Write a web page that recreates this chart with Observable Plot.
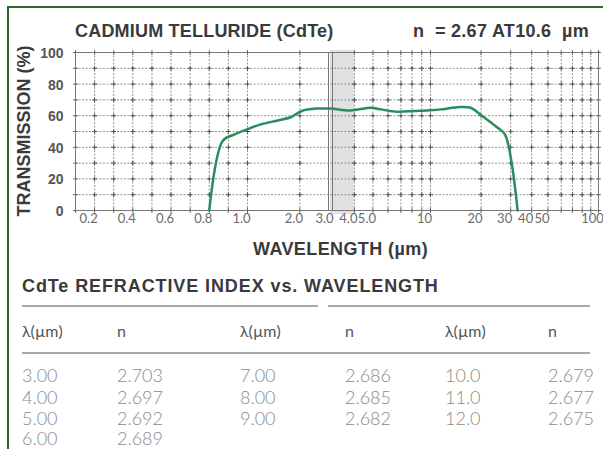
<!DOCTYPE html>
<html><head><meta charset="utf-8">
<script src="https://cdn.jsdelivr.net/npm/d3@7"></script>
<script src="https://cdn.jsdelivr.net/npm/@observablehq/plot@0.6"></script>
<style>
html,body{margin:0;padding:0;background:#fff;}
#page{position:relative;width:603px;height:449px;overflow:hidden;font-family:"Liberation Sans",Arial,sans-serif;background:#fff;}
#page svg{position:absolute;left:0;top:0;}
.t{position:absolute;white-space:pre;}
.bold{font-weight:bold;color:#3a3a3a;}
.frameline{position:absolute;background:#2c6a2c;}
.hline{position:absolute;height:2px;background:#a8a8a8;}
.cell{position:absolute;white-space:pre;font-family:Lato,"Open Sans",sans-serif;font-weight:300;font-size:18px;line-height:18px;color:#8a8a8a;}
.head{position:absolute;white-space:pre;font-family:Lato,"Open Sans",sans-serif;font-weight:400;font-size:16px;line-height:16px;color:#555;}
</style></head><body><div id="page"></div>
<script>
// ---- data ----
const wavelength =   [0.80, 0.87, 0.93, 1.00, 1.19, 1.50, 1.77, 2.05, 2.50, 3.00, 3.80, 4.90, 5.50, 6.70, 8.20, 10.0, 11.5, 15.0, 17.3, 20.5, 25.0, 27.8, 33.0];
const transmission = [0,    44,   48,   51.5, 54.5, 57,   59,   63,   64.5, 64.5, 63.3, 65,   64,   62.5, 63,   63.5, 64,   65.5, 65,   59.5, 52.5, 48,   0];
const xGridLeft = [0.1, 0.2, 0.3, 0.4, 0.5, 0.6, 0.7, 0.8, 0.9, 1.0, 2.0];
const xGridRight = [4, 5, 6, 7, 8, 9, 10, 20, 30, 40, 50, 60, 70, 80, 90, 100];
const panelJoin = [3];
const band = [[3, 4]];
const yGrid = [0, 10, 20, 30, 40, 50, 60, 70, 80, 90, 100];
const xTickValues = [0.2, 0.4, 0.6, 0.8, 1.0, 2.0, 3.0, 4.0, 5.0, 10, 20, 30, 40, 50, 100];
const xTickLabels = ["0.2", "0.4", "0.6", "0.8", "1.0", "2.0", "3.0", "4.0", "5.0", "10", "20", "30", "40", "50", "100"];
const yTickValues = [0, 20, 40, 60, 80, 100];

const title = "CADMIUM TELLURIDE (CdTe)";
const indexNote = "n  = 2.67 AT10.6  µm";
const xTitle = "WAVELENGTH (µm)";
const yTitle = "TRANSMISSION (%)";
const tableTitle = "CdTe REFRACTIVE INDEX vs. WAVELENGTH";
const tableHeader = ["λ(µm)", "n", "λ(µm)", "n", "λ(µm)", "n"];
const lambdaCol1 = ["3.00", "4.00", "5.00", "6.00"];
const nCol1 = ["2.703", "2.697", "2.692", "2.689"];
const lambdaCol2 = ["7.00", "8.00", "9.00"];
const nCol2 = ["2.686", "2.685", "2.682"];
const lambdaCol3 = ["10.0", "11.0", "12.0"];
const nCol3 = ["2.679", "2.677", "2.675"];

// ---- axis mapping: linear below 1 µm, logarithmic above ----
const u = w => w <= 1 ? w : 1 + Math.log10(w);

const page = document.getElementById("page");
const pts = wavelength.map((w, i) => ({w, t: transmission[i]}));
const xGrid = xGridLeft.concat(xGridRight);
const crosses = xGrid.flatMap(x => yGrid.map(y => ({x, y})));

const chart = Plot.plot({
  width: 603, height: 260,
  marginTop: 52, marginBottom: 50, marginLeft: 75, marginRight: 5,
  style: {background: "transparent", overflow: "visible"},
  x: {type: "linear", transform: u, domain: [0.1, 1, 3, 10, 100].map(u), range: [75, 247, 330, 430, 598], axis: null},
  y: {domain: [0, 100], axis: null},
  marks: [
    Plot.rect(band, {x1: d => d[0], x2: d => d[1], y1: 0, y2: 100, insetTop: -2, insetBottom: -4, fill: "#d9d9d9", fillOpacity: 0.8}),
    Plot.ruleY(yGrid, {y: d => d, stroke: "#777", strokeWidth: 1, strokeDasharray: "2,1.5", strokeOpacity: 0.8}),
    Plot.ruleX(xGrid, {x: d => d, stroke: "#777", strokeWidth: 1, strokeDasharray: "2,1.5", strokeOpacity: 0.8}),
    Plot.ruleX(panelJoin, {x: d => d, dx: -2, stroke: "#777", strokeWidth: 1}),
    Plot.ruleX(panelJoin, {x: d => d, dx: 2, stroke: "#777", strokeWidth: 1}),
    Plot.dot(crosses, {x: "x", y: "y", symbol: "plus", r: 1.6, stroke: "#555", strokeWidth: 1}),
    Plot.frame({stroke: "#777", strokeWidth: 1}),
    Plot.line(pts, {x: "w", y: "t", curve: "catmull-rom", stroke: "#2a8c5c", strokeWidth: 2.5}),
    Plot.text(xTickValues, {x: d => d, text: (d, i) => xTickLabels[i], frameAnchor: "bottom", dy: 12, dx: -6, fontSize: 13, fill: "#6a6a6a", fontFamily: "Lato, 'Liberation Sans', sans-serif"}),
    Plot.text(yTickValues, {y: d => d, text: d => String(d), frameAnchor: "left", textAnchor: "end", dx: -12, dy: 1, fontSize: 14, fontWeight: "bold", fill: "#555", fontFamily: "'Liberation Sans', Arial, sans-serif"})
  ]
});
page.appendChild(chart);

function addText(cls, txt, left, top, size, extra) {
  const d = document.createElement("div");
  d.className = cls;
  d.textContent = txt;
  d.style.left = left + "px";
  d.style.top = top + "px";
  if (size) { d.style.fontSize = size + "px"; d.style.lineHeight = size + "px"; }
  if (extra) Object.assign(d.style, extra);
  page.appendChild(d);
  return d;
}

// green frame of the original sheet
const fTop = document.createElement("div"); fTop.className = "frameline";
Object.assign(fTop.style, {left: "7px", top: "6px", width: "600px", height: "2px"}); page.appendChild(fTop);
const fLeft = document.createElement("div"); fLeft.className = "frameline";
Object.assign(fLeft.style, {left: "7px", top: "6px", width: "2px", height: "450px"}); page.appendChild(fLeft);

addText("t bold", title, 75, 22, 18, {letterSpacing: "0.2px"});
addText("t bold", indexNote, 413, 22, 18, {letterSpacing: "0.3px"});
addText("t bold", xTitle, 253, 240, 18, {letterSpacing: "0.4px"});
addText("t bold", yTitle, 24 - 100, 131 - 9, 18, {width: "200px", textAlign: "center", transform: "rotate(-90deg)", transformOrigin: "50% 50%"});
addText("t bold", tableTitle, 22, 277, 18, {letterSpacing: "0.9px"});

// table rules
[[305, 22, 296], [305, 328, 262], [352, 22, 568]].forEach(([y, x, w]) => {
  const d = document.createElement("div"); d.className = "hline";
  Object.assign(d.style, {top: y + "px", left: x + "px", width: w + "px"}); page.appendChild(d);
});

const colX = [22, 117, 240, 345, 445, 548];
tableHeader.forEach((h, i) => addText("head", h, colX[i], 323));
const cols = [lambdaCol1, nCol1, lambdaCol2, nCol2, lambdaCol3, nCol3];
const rowTop = [366, 388, 409, 429];
cols.forEach((col, c) => col.forEach((v, r) => addText("cell", v, colX[c], rowTop[r])));
</script></body></html>
